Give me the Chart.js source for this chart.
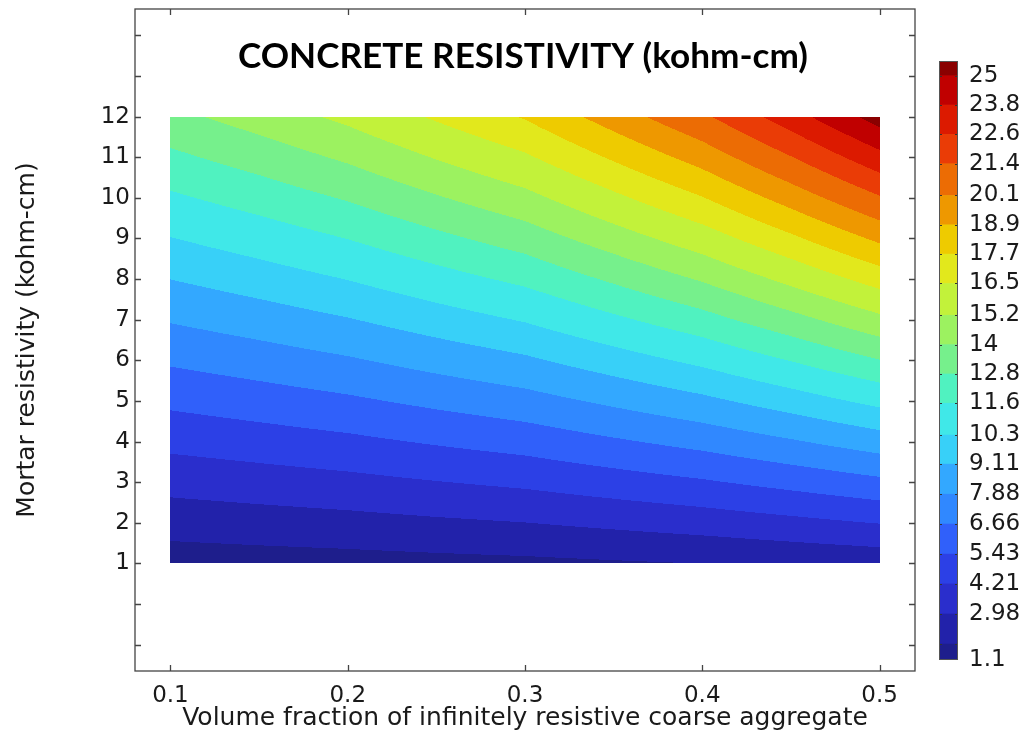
<!DOCTYPE html>
<html>
<head>
<meta charset="utf-8">
<title>Concrete resistivity</title>
<script src="https://cdn.jsdelivr.net/npm/chart.js@4.4.1/dist/chart.umd.min.js"></script>
<style>
  html, body { margin: 0; padding: 0; background: #fff; }
  #wrap { position: relative; width: 1027px; height: 733px; overflow: hidden; }
  #main { position: absolute; left: 0; top: 0; }
  #scaleBar { position: absolute; left: 930px; top: 0; }
</style>
</head>
<body>
<div id="wrap">
  <canvas id="main" width="1027" height="733"></canvas>
  <canvas id="scaleBar" width="97" height="733"></canvas>
</div>
<script>
// grid columns: volume fraction of coarse aggregate
const fractions = [0.1, 0.15, 0.2, 0.25, 0.3, 0.35, 0.4, 0.45, 0.5];
// grid rows: mortar resistivity (kohm-cm)
const mortarRes = [1, 4, 8, 12];
// concrete resistivity (kohm-cm) at the grid nodes, one row per mortar value
const concreteRes = [
    [1.12, 1.21, 1.29, 1.39, 1.48, 1.62, 1.76, 1.94, 2.13],
    [4.55, 4.85, 5.16, 5.56, 5.94, 6.50, 7.06, 7.76, 8.51],
    [9.12, 9.70, 10.33, 11.11, 11.88, 12.99, 14.12, 15.53, 17.02],
    [13.68, 14.54, 15.49, 16.67, 17.81, 19.49, 21.17, 23.29, 25.55]
];

// contour levels (band boundaries)
const contourLevels = [1.75, 2.98, 4.21, 5.43, 6.66, 7.88, 9.11, 10.3, 11.6, 12.8,
    14, 15.2, 16.5, 17.7, 18.9, 20.1, 21.4, 22.6, 23.8, 25];
// colour legend range and labels
const legendRange = [1.1, 25.6];
const legendTicks = [1.1, 2.98, 4.21, 5.43, 6.66, 7.88, 9.11, 10.3, 11.6, 12.8,
    14, 15.2, 16.5, 17.7, 18.9, 20.1, 21.4, 22.6, 23.8, 25];
// one colour per band, lowest first
const bandColors = [
    '#1e1e8c', '#2222aa', '#2a2ecc', '#2c40e6', '#3060fa', '#3088ff', '#33a8ff',
    '#38d0f8', '#40e8e8', '#50f2c0', '#76f08c', '#9cf260', '#c2f23a', '#e2e81c',
    '#eecb00', '#ee9800', '#ec6c04', '#ea3c06', '#dc1a00', '#c00000', '#8a0000'
];

// axis ticks
const xTicks = [0.1, 0.2, 0.3, 0.4, 0.5];
const yTicks = [-1, 0, 1, 2, 3, 4, 5, 6, 7, 8, 9, 10, 11, 12, 13, 14];

const TEXT = '#1a1a1a';
const FRAME = '#444';
const FONT = "'DejaVu Sans', Verdana, sans-serif";

function hexToRgb(hex) {
    const n = parseInt(hex.slice(1), 16);
    return [(n >> 16) & 255, (n >> 8) & 255, n & 255];
}

function bracket(arr, v) {
    let i = 0;
    while (i < arr.length - 2 && v > arr[i + 1]) i++;
    const t = (v - arr[i]) / (arr[i + 1] - arr[i]);
    return [i, Math.min(1, Math.max(0, t))];
}

// bilinear lookup in the resistivity grid
function sampleGrid(xv, yv) {
    const [i, tx] = bracket(fractions, xv);
    const [j, ty] = bracket(mortarRes, yv);
    const a = concreteRes[j][i], b = concreteRes[j][i + 1];
    const c = concreteRes[j + 1][i], d = concreteRes[j + 1][i + 1];
    return (a * (1 - tx) + b * tx) * (1 - ty) + (c * (1 - tx) + d * tx) * ty;
}

// keep the plot box where the layout padding puts it
function fixedBox(size) {
    return s => {
        if (s.isHorizontal()) s.height = size; else s.width = size;
        s.paddingTop = 0;
        s.paddingBottom = 0;
        s.paddingLeft = 0;
        s.paddingRight = 0;
    };
}

// filled contour bands, rasterised through the chart scales
const contourFill = {
    id: 'contourFill',
    beforeDatasetsDraw(chart) {
        const {ctx, scales: {x, y}} = chart;
        const left = Math.round(x.getPixelForValue(fractions[0]));
        const right = Math.round(x.getPixelForValue(fractions[fractions.length - 1]));
        const top = Math.round(y.getPixelForValue(mortarRes[mortarRes.length - 1]));
        const bottom = Math.round(y.getPixelForValue(mortarRes[0]));
        const w = right - left, h = bottom - top;
        const img = ctx.createImageData(w, h);
        const rgb = bandColors.map(hexToRgb);
        for (let j = 0; j < h; j++) {
            const yv = y.getValueForPixel(top + j + 0.5);
            for (let i = 0; i < w; i++) {
                const xv = x.getValueForPixel(left + i + 0.5);
                const z = sampleGrid(xv, yv);
                let band = 0;
                while (band < contourLevels.length && z >= contourLevels[band]) band++;
                const c = rgb[band];
                const k = (j * w + i) * 4;
                img.data[k] = c[0];
                img.data[k + 1] = c[1];
                img.data[k + 2] = c[2];
                img.data[k + 3] = 255;
            }
        }
        ctx.putImageData(img, left, top);
    }
};

// box frame with inward tick marks on all four sides, plus the heading
const frameAndTitle = {
    id: 'frameAndTitle',
    afterDraw(chart) {
        const {ctx, chartArea: a, scales: {x, y}} = chart;
        ctx.save();
        ctx.strokeStyle = FRAME;
        ctx.lineWidth = 1.3;
        ctx.strokeRect(a.left, a.top, a.right - a.left, a.bottom - a.top);
        ctx.beginPath();
        xTicks.forEach(v => {
            const px = Math.round(x.getPixelForValue(v)) + 0.5;
            ctx.moveTo(px, a.bottom); ctx.lineTo(px, a.bottom - 6);
            ctx.moveTo(px, a.top); ctx.lineTo(px, a.top + 6);
        });
        yTicks.forEach(v => {
            const py = Math.round(y.getPixelForValue(v)) + 0.5;
            ctx.moveTo(a.left, py); ctx.lineTo(a.left + 6, py);
            ctx.moveTo(a.right, py); ctx.lineTo(a.right - 6, py);
        });
        ctx.stroke();

        const title = 'CONCRETE RESISTIVITY (kohm-cm)';
        ctx.font = "700 35px Lato, 'Open Sans', sans-serif";
        ctx.fillStyle = '#000';
        ctx.textAlign = 'center';
        ctx.textBaseline = 'alphabetic';
        const wNat = ctx.measureText(title).width;
        ctx.translate(523, 68);
        ctx.scale(570 / wNat, 1);
        ctx.fillText(title, 0, 0);
        ctx.restore();
    }
};

new Chart(document.getElementById('main'), {
    type: 'scatter',
    data: { datasets: [] },
    options: {
        responsive: false,
        animation: false,
        layout: { padding: { top: 9, right: 112, left: 0, bottom: 0 } },
        plugins: { legend: { display: false }, tooltip: { enabled: false } },
        scales: {
            x: {
                type: 'linear',
                min: 0.08,
                max: 0.52,
                afterBuildTicks: s => { s.ticks = xTicks.map(v => ({ value: v })); },
                afterFit: fixedBox(62),
                grid: { display: false, drawTicks: false },
                border: { display: false },
                ticks: {
                    autoSkip: false,
                    maxRotation: 0,
                    padding: 11,
                    color: TEXT,
                    font: { family: FONT, size: 23 },
                    callback: v => v.toFixed(1)
                },
                title: {
                    display: true,
                    text: 'Volume fraction of infinitely resistive coarse aggregate',
                    color: TEXT,
                    font: { family: FONT, size: 25 },
                    padding: { top: 0, bottom: 0 }
                }
            },
            y: {
                type: 'linear',
                min: -1.65,
                max: 14.65,
                afterBuildTicks: s => { s.ticks = yTicks.map(v => ({ value: v })); },
                afterFit: fixedBox(135),
                grid: { display: false, drawTicks: false },
                border: { display: false },
                ticks: {
                    autoSkip: false,
                    padding: 5,
                    color: TEXT,
                    font: { family: FONT, size: 23 },
                    callback: v => (v >= 1 && v <= 12) ? String(v) : ''
                },
                title: {
                    display: true,
                    text: 'Mortar resistivity (kohm-cm)',
                    color: TEXT,
                    font: { family: FONT, size: 25 },
                    padding: { top: 12, bottom: 0 }
                }
            }
        }
    },
    plugins: [contourFill, frameAndTitle]
});

// colour legend: one floating bar segment per contour band
const bandEdges = [legendRange[0], ...contourLevels, legendRange[1]];

const legendMarks = {
    id: 'legendMarks',
    afterDraw(chart) {
        const {ctx, chartArea: a, scales: {y}} = chart;
        ctx.save();
        ctx.strokeStyle = '#333';
        ctx.lineWidth = 1;
        ctx.beginPath();
        contourLevels.forEach(v => {
            const py = Math.round(y.getPixelForValue(v)) + 0.5;
            ctx.moveTo(a.left, py); ctx.lineTo(a.left + 3, py);
            ctx.moveTo(a.right, py); ctx.lineTo(a.right - 3, py);
        });
        ctx.stroke();
        ctx.strokeStyle = '#555';
        ctx.strokeRect(a.left + 0.5, a.top + 0.5, a.right - a.left - 1, a.bottom - a.top - 1);
        ctx.restore();
    }
};

new Chart(document.getElementById('scaleBar'), {
    type: 'bar',
    data: {
        labels: [''],
        datasets: bandColors.map((color, i) => ({
            data: [[bandEdges[i], bandEdges[i + 1]]],
            backgroundColor: color,
            borderWidth: 0,
            grouped: false,
            barPercentage: 1,
            categoryPercentage: 1
        }))
    },
    options: {
        responsive: false,
        animation: false,
        layout: { padding: { top: 61, bottom: 73, left: 9, right: 0 } },
        plugins: { legend: { display: false }, tooltip: { enabled: false } },
        scales: {
            x: { display: false },
            y: {
                position: 'right',
                min: legendRange[0],
                max: legendRange[1],
                afterBuildTicks: s => { s.ticks = legendTicks.map(v => ({ value: v })); },
                afterFit: fixedBox(69),
                grid: { display: false, drawTicks: false },
                border: { display: false },
                ticks: {
                    autoSkip: false,
                    padding: 11,
                    color: TEXT,
                    font: { family: FONT, size: 23 },
                    callback: v => String(v)
                }
            }
        }
    },
    plugins: [legendMarks]
});
</script>
</body>
</html>
